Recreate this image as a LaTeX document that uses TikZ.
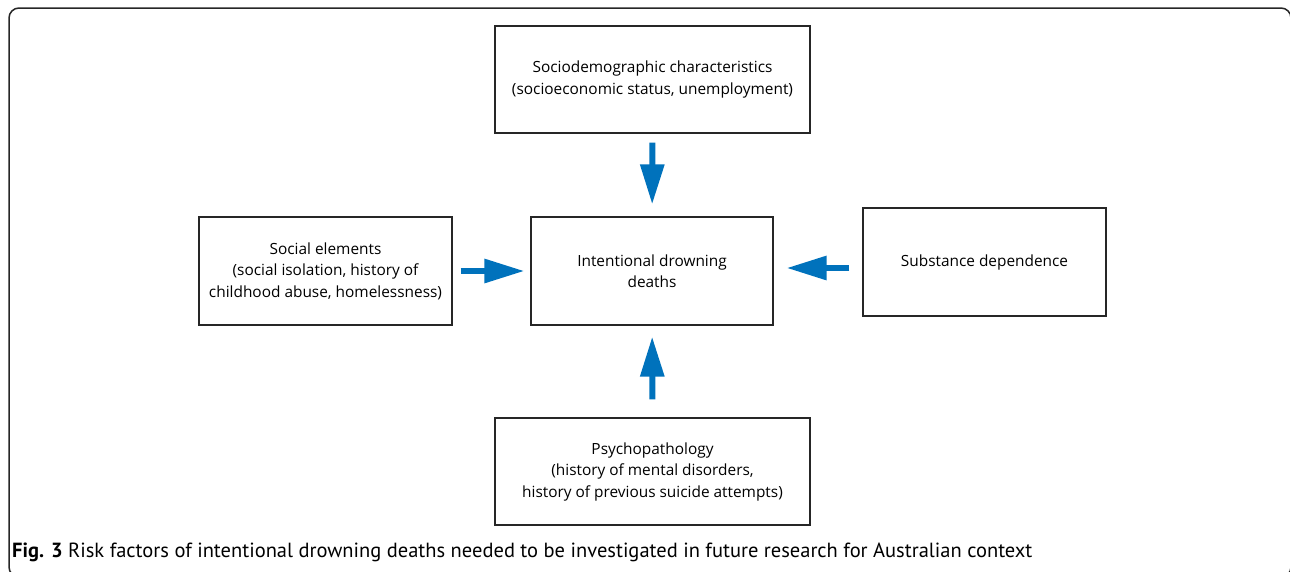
\documentclass[tikz,border=0pt]{standalone}
\usepackage{fontspec}
\setmainfont{Open Sans}
\newfontfamily\capfont{PT Sans}
\usetikzlibrary{arrows.meta}
\definecolor{arrowblue}{RGB}{0,114,188}

\begin{document}
\begin{tikzpicture}[x=1pt, y=-1pt,
  box/.style={draw=black!85, line width=1.2pt, align=center, font=\fontsize{15.4}{21.5}\selectfont, inner sep=0pt},
  flow/.style={draw=arrowblue, line width=6pt, -{Triangle[length=40pt, width=23pt]}}]

\useasboundingbox (0,0) rectangle (1290,571);

% Outer frame
\draw[line width=1.5pt, black!85, rounded corners=10pt] (9,8) rectangle (1291,577);

% Define the boxes
\node[box, minimum width=315pt, minimum height=107pt] (socio) at (652.5,79.5) {Sociodemographic characteristics\\(socioeconomic status, unemployment)};
\node[box, minimum width=242pt, minimum height=108pt] (hub) at (652,271) {Intentional drowning\\deaths};
\node[box, minimum width=253pt, minimum height=108pt] (social) at (325.5,271) {Social elements\\(social isolation, history of\\childhood abuse, homelessness)};
\node[box, minimum width=243pt, minimum height=108pt] (subst) at (984.5,262) {Substance dependence};
\node[box, minimum width=315pt, minimum height=107pt] (psycho) at (652.5,471.5) {Psychopathology\\(history of mental disorders,\\history of previous suicide attempts)};

% Draw arrows into the centre box
\draw[flow, shorten <=9pt, shorten >=12pt] (socio) -- (hub);
\draw[flow, shorten <=8pt, shorten >=6pt] (social) -- (hub);
\draw[flow, shorten <=13pt, shorten >=13pt] (subst.west |- 0,268) -- (hub.east |- 0,268);
\draw[flow, shorten <=18pt, shorten >=11pt] (psycho) -- (hub);

% Caption
\node[anchor=base west, inner sep=0pt, font=\capfont\fontsize{20.5}{24}\selectfont] (caption) at (12,557) {\textbf{Fig. 3} Risk factors of intentional drowning deaths needed to be investigated in future research for Australian context};

\end{tikzpicture}
\end{document}
